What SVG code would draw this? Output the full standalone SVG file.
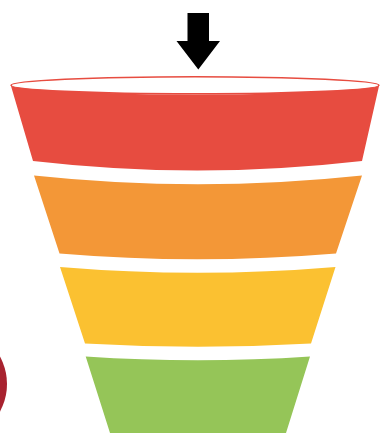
<svg xmlns="http://www.w3.org/2000/svg" width="381" height="433" viewBox="0 0 381 433">
<style>
.red{fill:#E74C40}
.orange{fill:#F39737}
.yellow{fill:#FBC131}
.green{fill:#95C558}
</style>
<rect width="381" height="433" fill="#fff"/>
<g id="circle"><circle cx="-50" cy="384" r="57" fill="#A8222F"/></g>
<g id="arrow"><polygon points="187.5,13 209,13 209,41 220,41 198.3,69.5 176.5,41 187.5,41" fill="#000"/></g>
<g id="stage1">
<path class="red" d="M11,86 Q195,104 379,86 L362,161 Q197,180 33,161 Z"/>
<ellipse cx="195" cy="85.3" rx="184" ry="8.6" fill="#fff" stroke="#E74C40" stroke-width="1.6"/>
</g>
<g id="stage2"><path class="orange" d="M34,175.5 Q198,193 362,175.5 L336,253.5 Q197,265 59.5,253.5 Z"/></g>
<g id="stage3"><path class="yellow" d="M60,267 Q198,278.5 335.5,267 L311,343.5 Q198,350 85,343.5 Z"/></g>
<g id="stage4"><path class="green" d="M85.7,356.5 Q198,364 310,356.5 L286,433 L110,433 Z"/></g>
</svg>
